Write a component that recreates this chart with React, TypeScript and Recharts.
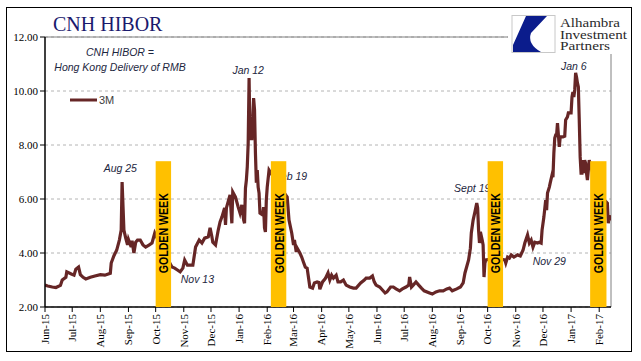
import {
  ComposedChart,
  Line,
  XAxis,
  YAxis,
  CartesianGrid,
  ReferenceArea,
  ReferenceDot,
  ReferenceLine,
  Legend,
} from 'recharts'

// CNH HIBOR 3M fixing
const dates = [
  '2015-06-01', '2015-06-04', '2015-06-09', '2015-06-13', '2015-06-18', '2015-06-20', '2015-06-24', '2015-06-25',
  '2015-06-30', '2015-07-03', '2015-07-05', '2015-07-08', '2015-07-10', '2015-07-13', '2015-07-16', '2015-07-21',
  '2015-07-26', '2015-08-01', '2015-08-06', '2015-08-12', '2015-08-13', '2015-08-16', '2015-08-19', '2015-08-22',
  '2015-08-24', '2015-08-25', '2015-08-27', '2015-08-29', '2015-08-31', '2015-09-01', '2015-09-04', '2015-09-05',
  '2015-09-07', '2015-09-09', '2015-09-11', '2015-09-14', '2015-09-17', '2015-09-20', '2015-09-24', '2015-09-27',
  '2015-09-30', '2015-10-09', '2015-10-19', '2015-10-22', '2015-10-25', '2015-10-28', '2015-10-31', '2015-11-02',
  '2015-11-05', '2015-11-11', '2015-11-14', '2015-11-18', '2015-11-21', '2015-11-24', '2015-11-28', '2015-11-30',
  '2015-12-02', '2015-12-03', '2015-12-06', '2015-12-09', '2015-12-11', '2015-12-13', '2015-12-16', '2015-12-17',
  '2015-12-18', '2015-12-22', '2015-12-24', '2015-12-25', '2015-12-28', '2015-12-31', '2016-01-02', '2016-01-04',
  '2016-01-06', '2016-01-07', '2016-01-08', '2016-01-09', '2016-01-10', '2016-01-11', '2016-01-12', '2016-01-13',
  '2016-01-14', '2016-01-15', '2016-01-17', '2016-01-18', '2016-01-19', '2016-01-20', '2016-01-21', '2016-01-22',
  '2016-01-23', '2016-01-24', '2016-01-27', '2016-01-28', '2016-01-29', '2016-01-30', '2016-01-31', '2016-02-01',
  '2016-02-03', '2016-02-12', '2016-02-23', '2016-02-25', '2016-02-28', '2016-03-01', '2016-03-02', '2016-03-04',
  '2016-03-05', '2016-03-08', '2016-03-10', '2016-03-12', '2016-03-14', '2016-03-16', '2016-03-19', '2016-03-22',
  '2016-03-24', '2016-03-27', '2016-03-29', '2016-03-30', '2016-04-02', '2016-04-05', '2016-04-08', '2016-04-10',
  '2016-04-12', '2016-04-14', '2016-04-17', '2016-04-19', '2016-04-22', '2016-04-25', '2016-04-28', '2016-05-02',
  '2016-05-06', '2016-05-09', '2016-05-14', '2016-05-18', '2016-05-20', '2016-05-24', '2016-05-27', '2016-05-29',
  '2016-05-31', '2016-06-04', '2016-06-07', '2016-06-10', '2016-06-12', '2016-06-16', '2016-06-19', '2016-06-22',
  '2016-06-26', '2016-06-29', '2016-07-03', '2016-07-06', '2016-07-07', '2016-07-09', '2016-07-11', '2016-07-14',
  '2016-07-17', '2016-07-20', '2016-07-23', '2016-07-29', '2016-08-01', '2016-08-05', '2016-08-09', '2016-08-13',
  '2016-08-17', '2016-08-20', '2016-08-23', '2016-08-28', '2016-09-01', '2016-09-04', '2016-09-06', '2016-09-10',
  '2016-09-12', '2016-09-13', '2016-09-15', '2016-09-17', '2016-09-19', '2016-09-20', '2016-09-21', '2016-09-22',
  '2016-09-23', '2016-09-25', '2016-09-26', '2016-09-27', '2016-09-28', '2016-09-29', '2016-10-10', '2016-10-20',
  '2016-10-21', '2016-10-23', '2016-10-25', '2016-10-27', '2016-10-30', '2016-11-03', '2016-11-06', '2016-11-09',
  '2016-11-11', '2016-11-14', '2016-11-16', '2016-11-18', '2016-11-20', '2016-11-22', '2016-11-25', '2016-11-27',
  '2016-11-29', '2016-11-30', '2016-12-02', '2016-12-04', '2016-12-05', '2016-12-06', '2016-12-08', '2016-12-09',
  '2016-12-11', '2016-12-12', '2016-12-13', '2016-12-14', '2016-12-15', '2016-12-16', '2016-12-17', '2016-12-18',
  '2016-12-19', '2016-12-20', '2016-12-23', '2016-12-25', '2016-12-26', '2016-12-28', '2016-12-29', '2017-01-01',
  '2017-01-02', '2017-01-03', '2017-01-04', '2017-01-05', '2017-01-06', '2017-01-07', '2017-01-08', '2017-01-09',
  '2017-01-10', '2017-01-11', '2017-01-12', '2017-01-13', '2017-01-14', '2017-01-15', '2017-01-16', '2017-01-17',
  '2017-01-18', '2017-01-19', '2017-01-21', '2017-01-31', '2017-02-10', '2017-02-11', '2017-02-12', '2017-02-13',
]

const rates = [
  2.81, 2.78, 2.74, 2.72, 2.8, 3.0, 3.1, 3.3,
  3.22, 3.18, 3.4, 3.48, 3.2, 3.1, 3.04, 3.1,
  3.15, 3.2, 3.18, 3.25, 3.63, 3.9, 4.1, 4.48,
  4.85, 6.63, 4.85, 4.55, 4.3, 4.5, 4.22, 4.45,
  4.0, 4.4, 4.48, 4.48, 4.3, 4.22, 4.3, 4.37,
  4.74, 4.1, 3.48, 3.44, 3.37, 3.3, 3.44, 3.74,
  3.55, 3.55, 4.22, 4.48, 4.37, 4.55, 4.6, 4.93,
  4.6, 4.4, 4.3, 4.85, 5.15, 5.33, 5.67, 5.04,
  5.67, 6.15, 5.1, 6.26, 6.07, 5.7, 5.48, 5.78,
  5.22, 5.1, 6.4, 6.7, 7.19, 8.07, 10.48, 8.18,
  8.74, 8.18, 9.74, 9.3, 7.7, 6.6, 7.07, 6.44,
  6.22, 5.48, 5.41, 5.7, 4.93, 4.78, 5.96, 6.44,
  7.07, 6.6, 6.07, 5.22, 4.74, 4.3, 4.48, 4.04,
  4.18, 4.0, 3.85, 3.66, 3.48, 3.44, 2.74, 2.7,
  2.89, 2.93, 2.91, 2.66, 2.93, 3.05, 3.26, 3.0,
  3.18, 3.07, 3.18, 2.93, 2.93, 3.0, 2.81, 2.74,
  2.7, 2.7, 2.89, 3.0, 3.07, 3.07, 3.15, 2.93,
  2.81, 2.74, 2.63, 2.52, 2.56, 2.74, 2.74, 2.67,
  2.6, 2.67, 2.74, 2.81, 3.11, 2.74, 2.81, 2.93,
  2.81, 2.7, 2.6, 2.52, 2.48, 2.56, 2.6, 2.6,
  2.67, 2.7, 2.6, 2.67, 2.74, 2.89, 3.26, 3.74,
  4.18, 4.74, 5.22, 5.52, 5.85, 5.67, 4.85, 4.37,
  4.78, 4.48, 4.3, 3.11, 3.63, 3.74, 3.8, 3.74,
  3.63, 3.85, 3.81, 3.93, 3.85, 3.93, 3.89, 4.1,
  4.37, 4.67, 4.37, 4.48, 4.22, 4.4, 4.37, 4.4,
  4.37, 4.85, 5.33, 5.96, 5.59, 6.22, 6.44, 6.6,
  6.89, 6.81, 7.7, 8.26, 8.37, 8.37, 8.81, 8.37,
  7.93, 8.3, 8.3, 8.33, 8.93, 9.04, 9.19, 9.19,
  9.78, 9.96, 9.78, 10.04, 10.67, 10.52, 10.3, 10.15,
  8.93, 7.56, 6.96, 6.96, 7.44, 6.96, 7.44, 7.33,
  6.96, 6.7, 7.44, 6.2, 5.85, 5.1, 5.4, 5.2,
]

const monthTicks = [
  '2015-06-01', '2015-07-01', '2015-08-01', '2015-09-01', '2015-10-01', '2015-11-01', '2015-12-01',
  '2016-01-01', '2016-02-01', '2016-03-01', '2016-04-01', '2016-05-01', '2016-06-01', '2016-07-01',
  '2016-08-01', '2016-09-01', '2016-10-01', '2016-11-01', '2016-12-01', '2017-01-01', '2017-02-01',
]
const axisStart = '2015-06-01'
const axisEnd = '2017-02-14'
const yTicks = [2, 4, 6, 8, 10, 12]

// golden week shading
const goldenStart = ['2015-10-01', '2016-02-05', '2016-10-01', '2017-01-22']
const goldenEnd = ['2015-10-18', '2016-02-22', '2016-10-18', '2017-02-09']
const goldenTop = 7.4

// text notes on the chart
const noteTexts = ['Aug 25', 'Nov 13', 'Jan 12', 'Feb 19', 'Sept 19', 'Nov 29', 'Jan 6']
const noteDates = ['2015-08-23', '2015-11-16', '2016-01-11', '2016-02-27', '2016-09-14', '2016-12-08', '2017-01-04']
const noteValues = [7.15, 3.04, 10.78, 6.85, 6.41, 3.7, 10.93]

const logoLines = ['Alhambra', 'Investment', 'Partners']
const logoWidths = [60, 67, 50]

const MONTHS = ['Jan', 'Feb', 'Mar', 'Apr', 'May', 'Jun', 'Jul', 'Aug', 'Sep', 'Oct', 'Nov', 'Dec']
const toTime = (s: string) => Date.parse(s + 'T00:00:00Z')

const data = dates.map((d, i) => ({ t: toTime(d), v: rates[i] }))

const SERIF = "'Liberation Serif', 'Times New Roman', serif"
const SANS = "'Liberation Sans', Arial, sans-serif"
const LINE_COLOR = '#662626'
const NOTE_COLOR = '#1c2640'

function monthLabel(t: number) {
  const d = new Date(t)
  return `${MONTHS[d.getUTCMonth()]}-${String(d.getUTCFullYear()).slice(2)}`
}

function XTick(props: any) {
  const { x, y, payload } = props
  return (
    <text
      x={x}
      y={y}
      transform={`rotate(-90 ${x} ${y})`}
      textAnchor="end"
      dy="0.35em"
      fontSize={11}
      fontFamily={SERIF}
      fill="#000"
    >
      {monthLabel(payload.value)}
    </text>
  )
}

function GoldenBar(props: any) {
  const { x, y, width, height } = props
  const cx = x + width / 2 + 1
  const cy = y + 72
  return (
    <g>
      <rect x={x} y={y} width={width} height={height} fill="#FFC000" />
      <text
        x={cx}
        y={cy}
        transform={`rotate(-90 ${cx} ${cy})`}
        textAnchor="middle"
        dominantBaseline="central"
        fontSize={12}
        fontWeight="bold"
        fontFamily={SANS}
        textLength={80}
        lengthAdjust="spacingAndGlyphs"
        fill="#000"
      >
        GOLDEN WEEK
      </text>
    </g>
  )
}

function noteShape(text: string) {
  return (props: any) => (
    <text
      x={props.cx}
      y={props.cy}
      textAnchor="middle"
      dominantBaseline="central"
      fontSize={10.5}
      fontStyle="italic"
      fontFamily={SANS}
      fill={NOTE_COLOR}
    >
      {text}
    </text>
  )
}

function LegendBox(props: any) {
  const item = props.payload && props.payload[0]
  return (
    <div style={{ display: 'flex', alignItems: 'center', fontFamily: SANS, fontSize: 11, color: '#404040' }}>
      <svg width={28} height={6}>
        <line x1={0} y1={3} x2={27} y2={3} stroke={LINE_COLOR} strokeWidth={3} />
      </svg>
      <span style={{ marginLeft: 1 }}>{item ? item.value : '3M'}</span>
    </div>
  )
}

export default function App() {
  return (
    <div style={{ position: 'absolute', left: 0, top: 0, width: 641, height: 361, background: '#fff' }}>
      <ComposedChart
        width={641}
        height={361}
        data={data}
        margin={{ top: 37, right: 30, bottom: 0, left: 0 }}
      >
        <CartesianGrid vertical={false} stroke="#b4b4b4" strokeDasharray="3 3" />
        <ReferenceLine y={12} stroke="#808080" strokeWidth={1} />
        <ReferenceLine x={toTime(axisEnd)} stroke="#808080" strokeWidth={1} />
        <XAxis
          dataKey="t"
          type="number"
          scale="linear"
          domain={[toTime(axisStart), toTime(axisEnd)]}
          ticks={monthTicks.map(toTime)}
          tick={<XTick />}
          tickSize={5}
          height={54}
          axisLine={{ stroke: '#000', strokeWidth: 1.5 }}
          tickLine={{ stroke: '#000' }}
          interval={0}
          allowDataOverflow
        />
        <YAxis
          type="number"
          domain={[2, 12]}
          ticks={yTicks}
          tickFormatter={(v: number) => v.toFixed(2)}
          width={45}
          tickSize={5}
          tick={{ fontSize: 11, fontFamily: SERIF, fill: '#000' }}
          axisLine={{ stroke: '#000', strokeWidth: 1.5 }}
          tickLine={{ stroke: '#000' }}
          interval={0}
        />
        <Legend
          layout="vertical"
          align="center"
          verticalAlign="middle"
          content={<LegendBox />}
          wrapperStyle={{ position: 'absolute', left: 70, top: 94, width: 'auto', height: 'auto' }}
        />
        <Line
          type="linear"
          dataKey="v"
          name="3M"
          stroke={LINE_COLOR}
          strokeWidth={3.2}
          dot={false}
          activeDot={false}
          isAnimationActive={false}
        />
        {noteTexts.map((txt, i) => (
          <ReferenceDot
            key={txt}
            x={toTime(noteDates[i])}
            y={noteValues[i]}
            r={0}
            shape={noteShape(txt)}
            ifOverflow="visible"
            zIndex={500}
          />
        ))}
        {goldenStart.map((s, i) => (
          <ReferenceArea
            key={s}
            x1={toTime(s)}
            x2={toTime(goldenEnd[i])}
            y1={2}
            y2={goldenTop}
            shape={<GoldenBar />}
            ifOverflow="visible"
            zIndex={1000}
          />
        ))}
      </ComposedChart>

      <svg
        width={641}
        height={361}
        style={{ position: 'absolute', left: 0, top: 0, pointerEvents: 'none' }}
      >
        <text x={53} y={31} fontFamily={SERIF} fontSize={20} fill="#1a1a6e">
          CNH HIBOR
        </text>
        <text x={120} y={52} textAnchor="middle" dominantBaseline="central" fontFamily={SANS} fontSize={10.5} fontStyle="italic" fill={NOTE_COLOR}>
          CNH HIBOR =
        </text>
        <text x={120} y={67} textAnchor="middle" dominantBaseline="central" fontFamily={SANS} fontSize={10.5} fontStyle="italic" fill={NOTE_COLOR}>
          Hong Kong Delivery of RMB
        </text>

        {/* logo */}
        <rect x={508} y={10} width={122} height={44} fill="#fff" />
        <rect x={512} y={15.5} width={43} height={37} fill="#fff" stroke="#c8c8c8" strokeWidth={1} />
        <path d="M526,16 L547,16 L531,33 Q527,44 541,52 L513,52 L513,45 Z" fill="#0b1c8c" />
        {logoLines.map((txt, i) => (
          <text
            key={txt}
            x={560}
            y={27 + i * 11.5}
            fontFamily={SERIF}
            fontSize={11.5}
            textLength={logoWidths[i]}
            lengthAdjust="spacingAndGlyphs"
            fill="#2a2a2a"
          >
            {txt}
          </text>
        ))}
      </svg>

      <div
        style={{
          position: 'absolute',
          left: 6,
          top: 7,
          width: 626,
          height: 345,
          border: '1.5px solid #000',
          boxSizing: 'border-box',
          pointerEvents: 'none',
        }}
      />
    </div>
  )
}
